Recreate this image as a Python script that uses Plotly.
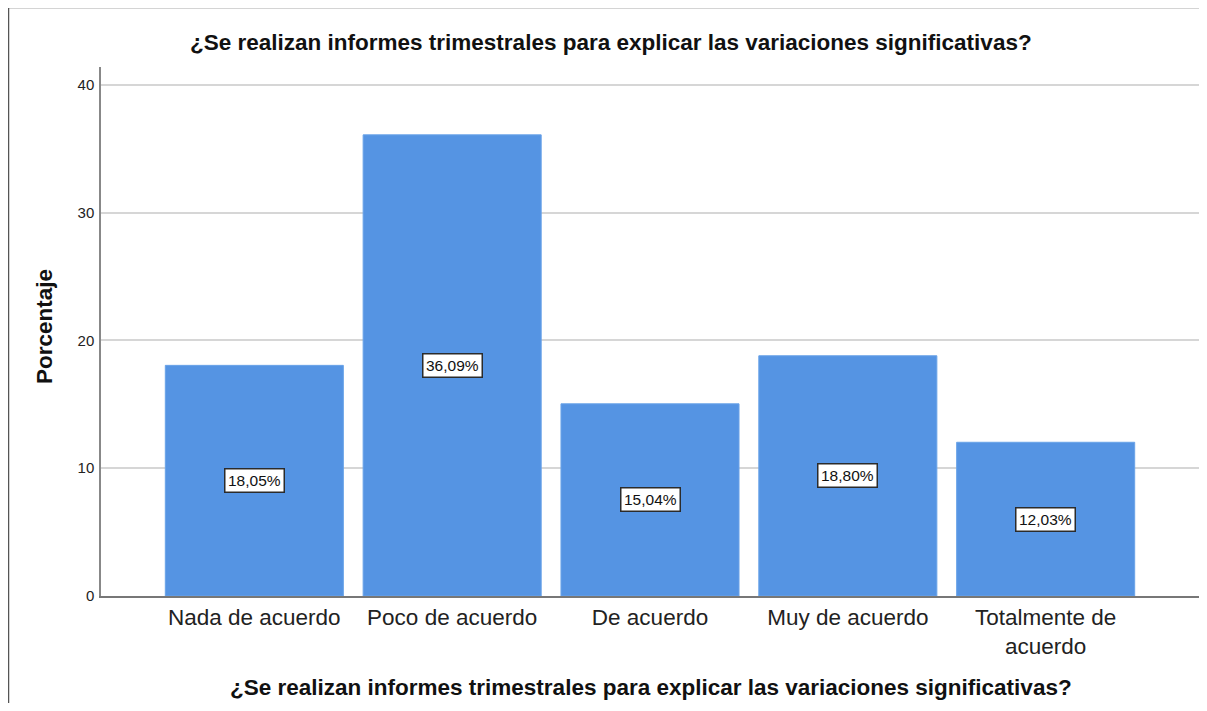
import plotly.graph_objects as go

categories = ["Nada de acuerdo", "Poco de acuerdo", "De acuerdo", "Muy de acuerdo", "Totalmente de<br>acuerdo"]
values = [18.05, 36.09, 15.04, 18.80, 12.03]
y_ticks = [0, 10, 20, 30, 40]
title_text = "¿Se realizan informes trimestrales para explicar las variaciones significativas?"
y_title = "Porcentaje"

# page body has an 8px margin, so figure coords = screen coords - 8
OFF = 8
W, H = 1191, 695
L, R, T, B = 93, 0, 59, 107
PW, PH = W - L - R, H - T - B

def px_x(x):
    return (x - OFF - L) / PW

def px_y(y):
    return (H - B - (y - OFF)) / PH

FONT = "Liberation Sans, Arial, sans-serif"
labels = [f"{v:.2f}".replace(".", ",") + "%" for v in values]
xs = list(range(len(categories)))

fig = go.Figure()
fig.add_trace(go.Bar(
    x=xs, y=values, width=0.9,
    marker=dict(color="#5594e3", line=dict(color="#6aa3e8", width=1)),
    hoverinfo="skip", showlegend=False,
))

annotations = []
for x, v, t in zip(xs, values, labels):
    annotations.append(dict(
        x=x, y=v / 2, xref="x", yref="y", text=t, showarrow=False,
        font=dict(family=FONT, size=15.5, color="#111111"),
        bgcolor="#ffffff", bordercolor="#2b2b2b", borderwidth=1.5, borderpad=2.5,
    ))

annotations.append(dict(
    x=px_x(611), y=px_y(42), xref="paper", yref="paper", text="<b>" + title_text + "</b>",
    showarrow=False, font=dict(family=FONT, size=22.5, color="#111111"),
    xanchor="center", yanchor="middle",
))
annotations.append(dict(
    x=px_x(651), y=px_y(688), xref="paper", yref="paper", text="<b>" + title_text + "</b>",
    showarrow=False, font=dict(family=FONT, size=22.5, color="#111111"),
    xanchor="center", yanchor="middle",
))
annotations.append(dict(
    x=px_x(44), y=px_y(327), xref="paper", yref="paper", text="<b>" + y_title + "</b>",
    showarrow=False, textangle=-90, font=dict(family=FONT, size=22.5, color="#111111"),
    xanchor="center", yanchor="middle",
))

shapes = [
    dict(type="line", xref="paper", yref="paper", x0=px_x(8), x1=px_x(1215), y0=px_y(7.5), y1=px_y(7.5),
         line=dict(color="#555555", width=1.5)),
    dict(type="line", xref="paper", yref="paper", x0=px_x(8.5), x1=px_x(8.5), y0=px_y(7), y1=px_y(715),
         line=dict(color="#555555", width=1.5)),
]

fig.update_layout(
    width=W, height=H,
    margin=dict(l=L, r=R, t=T, b=B, pad=0),
    paper_bgcolor="#ffffff", plot_bgcolor="#ffffff",
    bargap=0.1,
    annotations=annotations,
    shapes=shapes,
    font=dict(family=FONT, color="#222222"),
)
fig.update_xaxes(
    range=[-0.775, 4.775], tickvals=xs, ticktext=categories,
    showgrid=False, zeroline=False, showline=True, linecolor="#777777", linewidth=1.5,
    ticks="", tickfont=dict(family=FONT, size=22.5, color="#222222"),
)
fig.update_yaxes(
    range=[0, 41.4], tickvals=y_ticks,
    showgrid=True, gridcolor="#d6d6d6", gridwidth=2, zeroline=False,
    showline=True, linecolor="#888888", linewidth=1.5,
    ticks="", ticklabelstandoff=2, tickfont=dict(family=FONT, size=15, color="#222222"),
)

fig.write_html("out.html")
